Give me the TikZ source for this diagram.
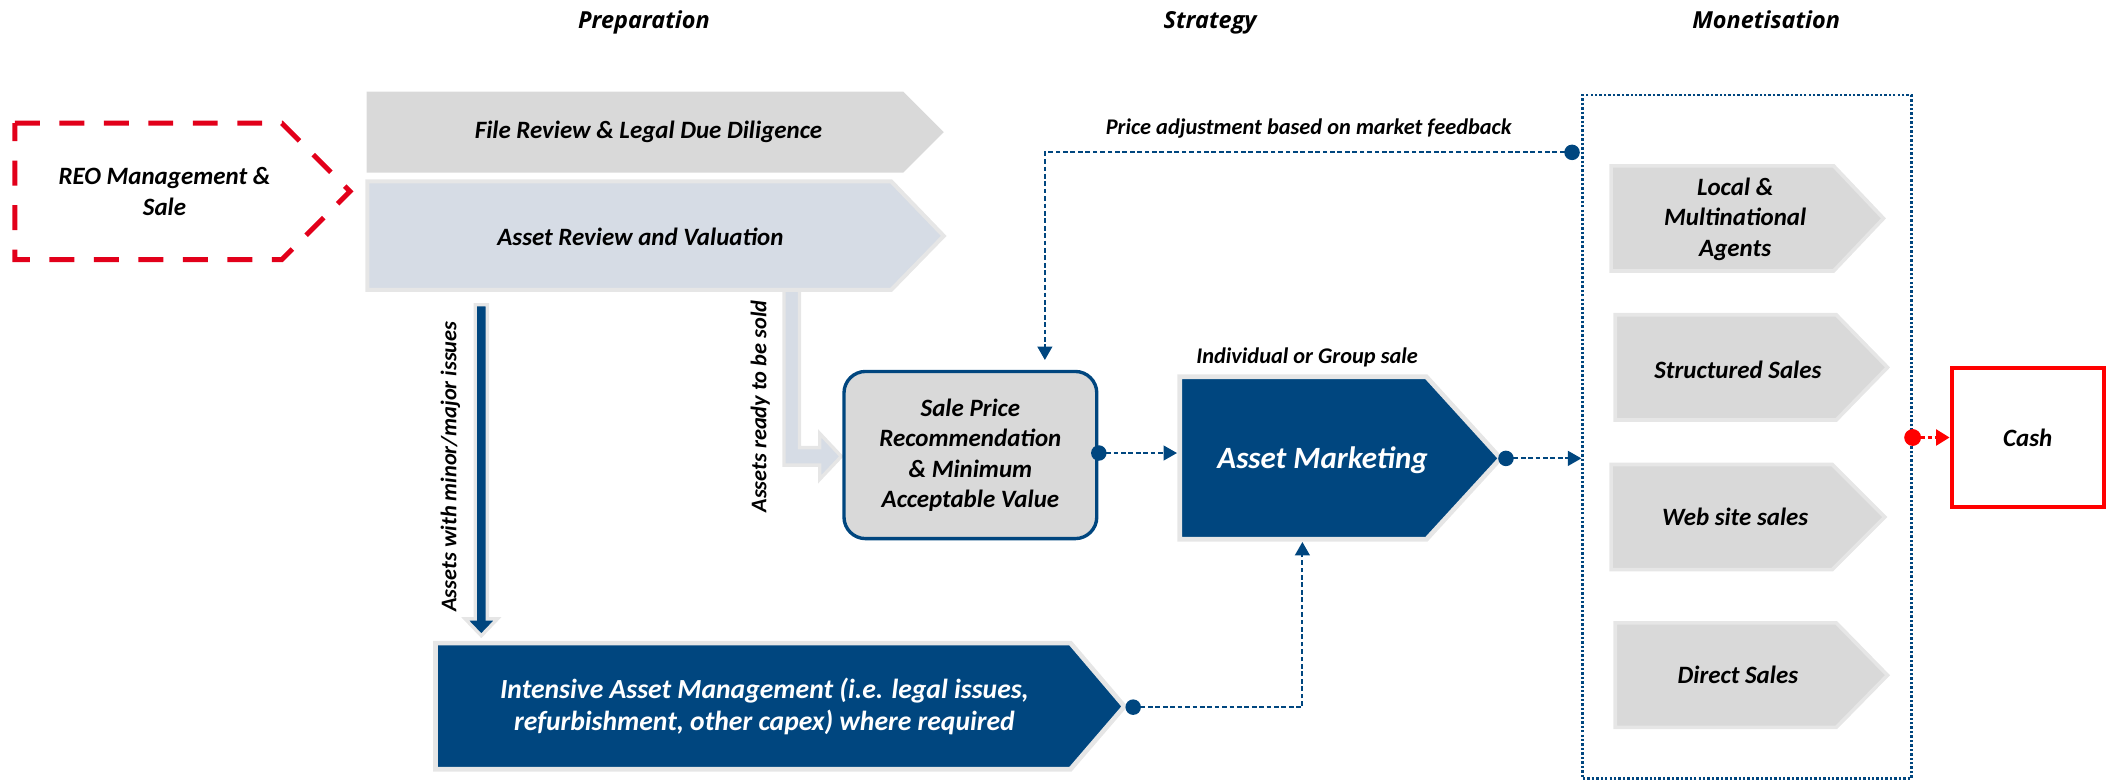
\documentclass[tikz,border=0pt]{standalone}
\usepackage{fontspec}
\setmainfont{Carlito}
\newfontfamily\headfont{Open Sans}
\usetikzlibrary{arrows.meta}

\definecolor{navy}{HTML}{00467F}
\definecolor{boxgrey}{HTML}{D9D9D9}
\definecolor{rimgrey}{HTML}{E6E6E6}
\definecolor{paleblue}{HTML}{D6DCE5}
\definecolor{reored}{HTML}{E2001A}
\definecolor{cashred}{HTML}{FF0000}

\begin{document}
\begin{tikzpicture}[x=1pt,y=-1pt,
  txt/.style={font=\fontsize{18.5}{22.6}\selectfont\bfseries\itshape, align=center, inner sep=0pt},
  small/.style={font=\fontsize{16.6}{20}\selectfont\bfseries\itshape, inner sep=0pt},
  head/.style={font=\headfont\fontsize{17.4}{20}\selectfont\bfseries\itshape, inner sep=0pt},
  greychev/.style={fill=boxgrey, draw=rimgrey, line width=2.7pt, line join=miter},
  navychev/.style={fill=navy, draw=rimgrey, line width=3.5pt, line join=miter},
  blockarrow/.style={draw=rimgrey, line width=2.5pt, line join=miter},
  conn/.style={navy, line width=1.4pt, dash pattern=on 3.5pt off 2pt,
    -{Triangle[length=10pt,width=11pt]}},
  dotstart/.style={circle, fill=navy, minimum size=11.5pt, inner sep=0pt},
]
\useasboundingbox (0,0) rectangle (1568,579);

% column headings
\node[head, anchor=base] (hprep)  at (477.6,20.8) {Preparation};
\node[head, anchor=base] (hstrat) at (897.6,20.8) {Strategy};
\node[head, anchor=base] (hmon)   at (1310,20.8)  {Monetisation};

% entry stage, dashed red chevron
\draw[reored, line width=3.7pt, dash pattern=on 18.5pt off 14.5pt]
  (11,91.4) -- (209,91.4) -- (259.6,142) -- (209,192.6) -- (11,192.6) -- cycle;
\node[txt] (reo) at (122,142) {REO Management \&\\Sale};

% block arrows leaving the review stage
\draw[blockarrow, fill=paleblue]
  (581.5,212) -- (593,212) -- (593,332) -- (608,332) -- (608,321.5)
  -- (624,338.5) -- (608,355.5) -- (608,345) -- (581.5,345) -- cycle;
\draw[blockarrow, fill=navy]
  (352.5,226) -- (361.5,226) -- (361.5,459) -- (369,459) -- (357,471.5)
  -- (345,459) -- (352.5,459) -- cycle;

% preparation chevrons
\fill[boxgrey] (272,68) -- (670,68) -- (700,98) -- (670,128) -- (272,128) -- cycle;
\node[txt] (filerev) at (481,98) {File Review \& Legal Due Diligence};
\draw[greychev, fill=paleblue, line width=3pt]
  (272.5,134.5) -- (661,134.5) -- (700,175) -- (661,215) -- (272.5,215) -- cycle;
\node[txt] (assetrev) at (475,176) {Asset Review and Valuation};

\node[small, rotate=90] (lblmajor) at (334,346) {Assets with minor/major issues};
\node[small, rotate=90] (lblready) at (564,301.5) {Assets ready to be sold};

% strategy
\node[txt, draw=navy, fill=boxgrey, line width=2.5pt, rounded corners=16pt,
      minimum width=187.5pt, minimum height=124pt] (sp) at (719.75,337.5)
  {Sale Price\\Recommendation\\\& Minimum\\Acceptable Value};

\draw[navychev] (875,279.5) -- (1058,279.5) -- (1113,340) -- (1058,400) -- (875,400) -- cycle;
\node[txt, text=white, font=\fontsize{23}{28}\selectfont\bfseries\itshape] (am) at (981,341) {Asset Marketing};
\node[small, anchor=base] (lblgroup) at (969.5,269.5) {Individual or Group sale};

\draw[navychev] (323,477) -- (794,477) -- (834,524) -- (794,570.5) -- (323,570.5) -- cycle;
\node[txt, text=white, font=\fontsize{20.5}{23.6}\selectfont\bfseries\itshape] (iam) at (567,524)
  {Intensive Asset Management (i.e. legal issues,\\refurbishment, other capex) where required};

% monetisation channels
\node[draw=navy, line width=2.1pt, dash pattern=on 1.8pt off 1.5pt,
      minimum width=243.6pt, minimum height=507pt, inner sep=0pt] (mbox) at (1295.8,324) {};

\draw[greychev] (1195,123) -- (1360,123) -- (1397,162) -- (1360,201) -- (1195,201) -- cycle;
\node[txt] (agents) at (1287,162.5) {Local \&\\Multinational\\Agents};
\draw[greychev] (1198,233.5) -- (1362,233.5) -- (1400,272.5) -- (1362,311.5) -- (1198,311.5) -- cycle;
\node[txt] (struct) at (1289,274) {Structured Sales};
\draw[greychev] (1195,344.5) -- (1359,344.5) -- (1398,383.5) -- (1359,422.5) -- (1195,422.5) -- cycle;
\node[txt] (web) at (1287,383.6) {Web site sales};
\draw[greychev] (1198,462) -- (1362,462) -- (1400,500.8) -- (1362,539.5) -- (1198,539.5) -- cycle;
\node[txt] (direct) at (1289,500.7) {Direct Sales};

\node[txt, draw=cashred, line width=3pt, minimum width=113pt, minimum height=103pt] (cash) at (1504,324.5) {Cash};

% connector end points
\coordinate (spin)  at (775,267);
\coordinate (amin)  at (873,336);
\coordinate (ambot) at (966,402);

% dashed connectors
\node[dotstart] (dprice) at (1166,113) {};
\draw[conn] (dprice.center) -| (spin);
\node[small, anchor=base] (lblprice) at (970.7,99.6) {Price adjustment based on market feedback};

\node[dotstart] (dsp) at (815,336) {};
\draw[conn] (dsp.center) -- (amin);

\node[dotstart] (dam) at (1117,340) {};
\draw[conn] (dam.center) -- (dam -| mbox.west);

\node[dotstart] (diam) at (840.5,524.5) {};
\draw[conn] (diam.center) -| (ambot);

\node[dotstart, fill=cashred, minimum size=12.5pt] (dcash) at (mbox.east |- cash) {};
\draw[cashred, line width=1.5pt, dash pattern=on 3.5pt off 2pt,
      -{Triangle[length=10pt,width=12pt]}] (dcash.center) -- (cash.west);

\end{tikzpicture}
\end{document}
